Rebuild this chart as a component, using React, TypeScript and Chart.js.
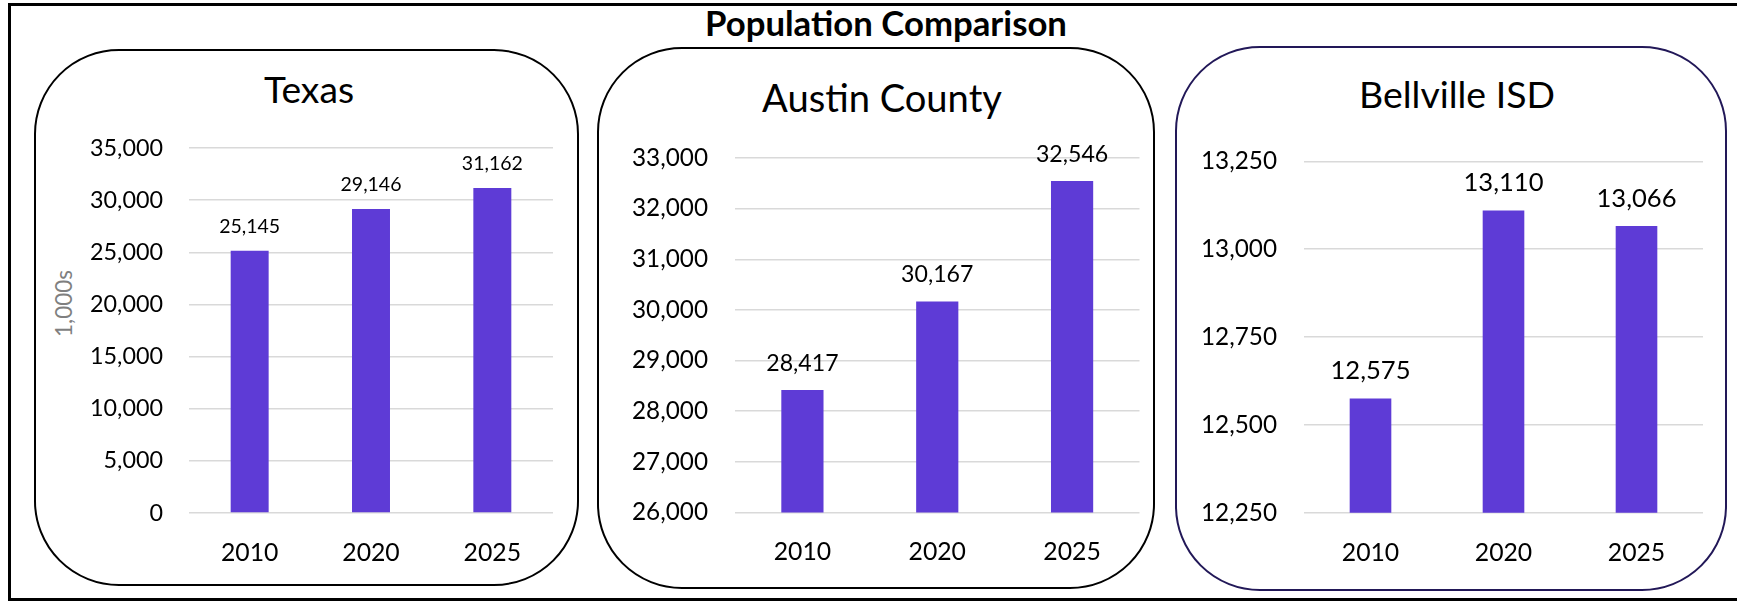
import React, { useEffect, useRef } from 'react';
import { Chart, registerables } from 'chart.js';

Chart.register(...registerables);

// ---------- data ----------
const mainTitle = 'Population Comparison';
const categories = ['2010', '2020', '2025'];
const panelTitles = ['Texas', 'Austin County', 'Bellville ISD'];
const texasValues = [25145, 29146, 31162];
const austinValues = [28417, 30167, 32546];
const bellvilleValues = [12575, 13110, 13066];
const texasTicks = [0, 5000, 10000, 15000, 20000, 25000, 30000, 35000];
const austinTicks = [26000, 27000, 28000, 29000, 30000, 31000, 32000, 33000];
const bellvilleTicks = [12250, 12500, 12750, 13000, 13250];
const texasAxisTitle = '1,000s';

// ---------- style ----------
const FONT = 'Lato';
const BAR = '#5E3BD6';
const GRID = '#d9d9d9';

const fmt = (v: number) => Number(v).toLocaleString('en-US');

let mctx: CanvasRenderingContext2D | null = null;
function fit(text: string, target: number, weight = 'normal') {
  if (!mctx) mctx = document.createElement('canvas').getContext('2d');
  mctx!.font = `${weight} 100px ${FONT}`;
  const w = mctx!.measureText(text).width;
  return (100 * target) / w;
}

type Rect = { left: number; top: number; right: number; bottom: number };

type PanelProps = {
  values: number[];
  ticks: number[];
  rect: Rect;
  area: Rect;
  yTickSample: string;
  yTickWidth: number;
  yPad: number;
  dlSample: string;
  dlWidth: number;
  dlGap: number;
  xPad: number;
};

function BarPanel(p: PanelProps) {
  const ref = useRef<HTMLCanvasElement | null>(null);
  useEffect(() => {
    const canvas = ref.current!;
    const ySize = fit(p.yTickSample, p.yTickWidth);
    const xSize = fit('2010', 57.5);
    const dlSize = fit(p.dlSample, p.dlWidth);
    const dataLabels = {
      id: 'dataLabels',
      afterDatasetsDraw(chart: any) {
        const ctx = chart.ctx;
        const meta = chart.getDatasetMeta(0);
        ctx.save();
        ctx.font = `${dlSize}px ${FONT}`;
        ctx.fillStyle = '#000';
        ctx.textAlign = 'center';
        ctx.textBaseline = 'alphabetic';
        meta.data.forEach((el: any, i: number) => {
          ctx.fillText(fmt(p.values[i]), el.x, el.y - p.dlGap);
        });
        ctx.restore();
      },
    };
    const chart = new Chart(canvas, {
      type: 'bar',
      data: {
        labels: categories,
        datasets: [
          {
            data: p.values,
            backgroundColor: BAR,
            borderWidth: 0,
            barPercentage: 0.313,
            categoryPercentage: 1,
          },
        ],
      },
      options: {
        animation: false,
        responsive: false,
        maintainAspectRatio: false,
        events: [],
        layout: {
          padding: {
            left: 0,
            top: p.area.top - p.rect.top,
            right: p.rect.right - p.area.right,
            bottom: 0,
          },
        },
        plugins: {
          legend: { display: false },
          tooltip: { enabled: false },
          title: { display: false },
        },
        scales: {
          x: {
            grid: { display: false },
            border: { display: false },
            ticks: {
              font: { family: FONT, size: xSize },
              color: '#000',
              padding: p.xPad,
              maxRotation: 0,
            },
            afterFit: (s: any) => {
              s.height = p.rect.bottom - p.area.bottom;
              s.paddingLeft = 0;
              s.paddingRight = 0;
            },
          },
          y: {
            min: p.ticks[0],
            max: p.ticks[p.ticks.length - 1],
            grid: { color: GRID, lineWidth: 1.5, drawTicks: false },
            border: { display: false },
            ticks: {
              font: { family: FONT, size: ySize },
              color: '#000',
              padding: p.yPad,
              callback: (v: any) => fmt(v),
            },
            afterBuildTicks: (s: any) => {
              s.ticks = p.ticks.map((v) => ({ value: v }));
            },
            afterFit: (s: any) => {
              s.width = p.area.left - p.rect.left;
              s.paddingTop = 0;
              s.paddingBottom = 0;
            },
          },
        },
      } as any,
      plugins: [dataLabels],
    });
    return () => chart.destroy();
  }, []);
  const w = p.rect.right - p.rect.left;
  const h = p.rect.bottom - p.rect.top;
  return (
    <canvas
      ref={ref}
      width={w}
      height={h}
      style={{ position: 'absolute', left: p.rect.left, top: p.rect.top, width: w, height: h }}
    />
  );
}

function TextAt(props: { text: string; cx: number; baseline: number; width: number; weight?: string; color?: string }) {
  const size = fit(props.text, props.width, props.weight || 'normal');
  return (
    <div
      style={{
        position: 'absolute',
        left: props.cx - 400,
        width: 800,
        top: props.baseline - 0.887 * size,
        fontFamily: FONT,
        fontSize: size,
        fontWeight: props.weight === 'bold' ? 700 : 400,
        lineHeight: 1,
        textAlign: 'center',
        color: props.color || '#000',
        whiteSpace: 'nowrap',
      }}
    >
      {props.text}
    </div>
  );
}

function PanelBox(props: { r: Rect; color: string }) {
  const { r } = props;
  return (
    <div
      style={{
        position: 'absolute',
        left: r.left,
        top: r.top,
        width: r.right - r.left,
        height: r.bottom - r.top,
        boxSizing: 'border-box',
        border: `2.5px solid ${props.color}`,
        borderRadius: 85,
      }}
    />
  );
}

export default function App() {
  const axisSize = fit(texasAxisTitle, 67);
  return (
    <div
      style={{
        position: 'fixed',
        left: 0,
        top: 0,
        width: 1737,
        height: 603,
        background: '#fff',
        overflow: 'hidden',
      }}
    >
      <div
        style={{
          position: 'absolute',
          left: 8,
          top: 3,
          width: 1780,
          height: 598,
          boxSizing: 'border-box',
          border: '3px solid #000',
        }}
      />
      <TextAt text={mainTitle} cx={886} baseline={36.7} width={362} weight="bold" />

      <PanelBox r={{ left: 33.5, top: 48.5, right: 578.5, bottom: 585.5 }} color="#000" />
      <PanelBox r={{ left: 596.5, top: 47, right: 1155, bottom: 588.5 }} color="#000" />
      <PanelBox r={{ left: 1174.5, top: 46, right: 1726.5, bottom: 590.7 }} color="#221858" />

      <TextAt text={panelTitles[0]} cx={309} baseline={102.6} width={90} />
      <TextAt text={panelTitles[1]} cx={882} baseline={111.7} width={240} />
      <TextAt text={panelTitles[2]} cx={1457} baseline={108.6} width={196} />

      <div
        style={{
          position: 'absolute',
          left: 63 - 100,
          top: 303.5 - axisSize * 0.6,
          width: 200,
          height: axisSize * 1.2,
          lineHeight: `${axisSize * 1.2}px`,
          fontFamily: FONT,
          fontSize: axisSize,
          color: '#7f7f7f',
          textAlign: 'center',
          transform: 'rotate(-90deg)',
          whiteSpace: 'nowrap',
        }}
      >
        {texasAxisTitle}
      </div>

      <BarPanel
        values={texasValues}
        ticks={texasTicks}
        rect={{ left: 37, top: 120, right: 576, bottom: 580 }}
        area={{ left: 189, top: 148, right: 553, bottom: 513 }}
        yTickSample="35,000"
        yTickWidth={73}
        yPad={26}
        dlSample="25,145"
        dlWidth={61}
        dlGap={18}
        xPad={17}
      />
      <BarPanel
        values={austinValues}
        ticks={austinTicks}
        rect={{ left: 600, top: 125, right: 1152, bottom: 582 }}
        area={{ left: 735, top: 158, right: 1139.5, bottom: 512.5 }}
        yTickSample="33,000"
        yTickWidth={76}
        yPad={27}
        dlSample="28,417"
        dlWidth={72.3}
        dlGap={19}
        xPad={17}
      />
      <BarPanel
        values={bellvilleValues}
        ticks={bellvilleTicks}
        rect={{ left: 1178, top: 125, right: 1723, bottom: 585 }}
        area={{ left: 1304, top: 161.3, right: 1703, bottom: 512.7 }}
        yTickSample="13,250"
        yTickWidth={76}
        yPad={27}
        dlSample="12,575"
        dlWidth={80}
        dlGap={19}
        xPad={17}
      />
    </div>
  );
}
